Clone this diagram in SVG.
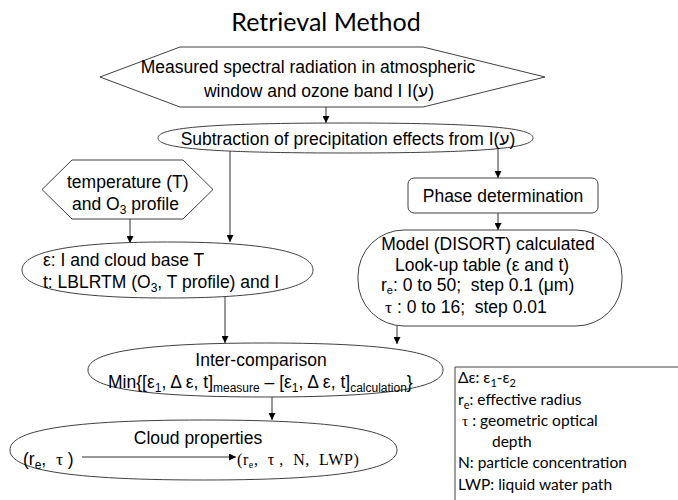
<svg xmlns="http://www.w3.org/2000/svg" width="678" height="500" viewBox="0 0 678 500">
  <defs>
    <marker id="arrow" viewBox="0 0 8 8" refX="8" refY="4" markerWidth="7" markerHeight="7" markerUnits="userSpaceOnUse" orient="auto">
      <path d="M0,0 L8,4 L0,8 Z" fill="#000"/>
    </marker>
    <style>
      .shape { fill: #fff; stroke: #404040; stroke-width: 1; }
      .edge { fill: none; stroke: #303030; stroke-width: 1; marker-end: url(#arrow); }
      .t { font-family: "Liberation Sans", Arial, sans-serif; font-size: 17.5px; fill: #000; white-space: pre; }
      .c { text-anchor: middle; }
      .sub { font-size: 12px; }
      .serif { font-family: "Liberation Serif", "Times New Roman", serif; }
      .title { font-family: Lato, "Open Sans", sans-serif; font-size: 25px; fill: #000; text-anchor: middle; }
      .legend { font-family: Lato, "Open Sans", sans-serif; font-size: 15.5px; fill: #000; white-space: pre; }
    </style>
  </defs>

  <rect width="678" height="500" fill="#fff"/>

  <text class="title" x="326" y="31">Retrieval Method</text>

  <!-- connectors -->
  <g id="connectors">
    <line class="edge" x1="326" y1="107" x2="326" y2="123"/>
    <line class="edge" x1="230" y1="151" x2="230" y2="242"/>
    <line class="edge" x1="130" y1="219" x2="130" y2="243"/>
    <line class="edge" x1="498" y1="148" x2="498" y2="178"/>
    <line class="edge" x1="498" y1="213" x2="498" y2="230"/>
    <line class="edge" x1="225" y1="297" x2="225" y2="343"/>
    <line class="edge" x1="397" y1="326" x2="397" y2="344"/>
    <line class="edge" x1="272" y1="397" x2="272" y2="420"/>
  </g>

  <!-- measured radiation -->
  <g id="measured">
    <polygon class="shape" points="100,77 180,47 423,47 545,77 423,107 180,107"/>
    <text class="t c" x="308" y="73">Measured spectral radiation in atmospheric</text>
    <text class="t c" x="319" y="97">window and ozone band I I(ע)</text>
  </g>

  <!-- subtraction of precipitation -->
  <g id="subtraction">
    <path class="shape" d="M158,138 C158,129.7 188,123 345.5,123 C503,123 533,129.7 533,138 C533,146.3 503,153 345.5,153 C188,153 158,146.3 158,138 Z"/>
    <text class="t c" x="348" y="145">Subtraction of precipitation effects from I(ע)</text>
  </g>

  <!-- temperature and ozone profile -->
  <g id="profile">
    <polygon class="shape" points="42,189.5 72,160 183,160 213,189.5 183,219 72,219"/>
    <text class="t" x="67" y="188">temperature (T)</text>
    <text class="t" x="72" y="210">and O<tspan class="sub" dy="4">3</tspan><tspan dy="-4"> profile</tspan></text>
  </g>

  <!-- emissivity inputs -->
  <g id="inputs">
    <path class="shape" d="M22,270 C22,254.6 58,242 167.5,242 C277,242 313,254.6 313,270 C313,285.4 277,298 167.5,298 C58,298 22,285.4 22,270 Z"/>
    <text class="t" x="43" y="266">ε: I and cloud base T</text>
    <text class="t" x="43" y="288">t: LBLRTM (O<tspan class="sub" dy="4">3</tspan><tspan dy="-4">, T profile) and I</tspan></text>
  </g>

  <!-- phase determination -->
  <g id="phase">
    <rect class="shape" x="408" y="178" width="190" height="35" rx="6" ry="6"/>
    <text class="t c" x="503" y="202">Phase determination</text>
  </g>

  <!-- look-up table -->
  <g id="lookup">
    <rect class="shape" x="358" y="230" width="264" height="96" rx="46" ry="46"/>
    <text class="t c" x="488" y="250">Model (DISORT) calculated</text>
    <text class="t c" x="482" y="271">Look-up table (ε and t)</text>
    <text class="t" x="381" y="291">r<tspan font-size="11" dy="3">e</tspan><tspan dy="-3">: 0 to 50;  step 0.1 (μm)</tspan></text>
    <text class="t" x="385" y="313"><tspan class="serif">τ</tspan> : 0 to 16;  step 0.01</text>
  </g>

  <!-- inter-comparison -->
  <g id="intercomparison">
    <path class="shape" d="M88,370 C88,355.2 124,343 265.5,343 C407,343 443,355.2 443,370 C443,384.8 407,397 265.5,397 C124,397 88,384.8 88,370 Z"/>
    <text class="t c" x="261" y="366">Inter-comparison</text>
    <text class="t" x="108" y="388">Min{[ε<tspan class="sub" dy="4">1</tspan><tspan dy="-4">, Δ ε, t]</tspan><tspan class="sub" dy="4">measure</tspan><tspan dy="-4"> – [ε</tspan><tspan class="sub" dy="4">1</tspan><tspan dy="-4">, Δ ε, t]</tspan><tspan class="sub" dy="4">calculation</tspan><tspan dy="-4">}</tspan></text>
  </g>

  <!-- cloud properties -->
  <g id="cloud">
    <path class="shape" d="M10,450 C10,433.5 50,420 203.5,420 C357,420 397,433.5 397,450 C397,466.5 357,480 203.5,480 C50,480 10,466.5 10,450 Z"/>
    <text class="t c" x="198" y="444">Cloud properties</text>
    <text class="t" x="23" y="465">(r<tspan class="sub" dy="4">e</tspan><tspan dy="-4">,  </tspan><tspan class="serif">τ</tspan> )</text>
    <line class="edge" x1="82" y1="457" x2="236" y2="457"/>
    <text class="t serif" x="237" y="465" fill="#333" style="font-size:16px;letter-spacing:0.6px">(r<tspan font-size="10" dy="3">e</tspan><tspan dy="-3">,  τ ,  N,  LWP)</tspan></text>
  </g>

  <!-- legend -->
  <g id="legend">
    <path d="M678,367 H455 V500" fill="none" stroke="#404040" stroke-width="1"/>
    <text class="legend" x="458" y="383">Δε: ε<tspan font-size="11" dy="4">1</tspan><tspan dy="-4">-ε</tspan><tspan font-size="11" dy="4">2</tspan></text>
    <text class="legend" x="458" y="405">r<tspan font-size="11" dy="4">e</tspan><tspan dy="-4">: effective radius</tspan></text>
    <text class="legend" x="458" y="426"> <tspan class="serif">τ</tspan> : geometric optical</text>
    <text class="legend" x="492" y="447">depth</text>
    <text class="legend" x="458" y="468">N: particle concentration</text>
    <text class="legend" x="458" y="490">LWP: liquid water path</text>
  </g>
</svg>
